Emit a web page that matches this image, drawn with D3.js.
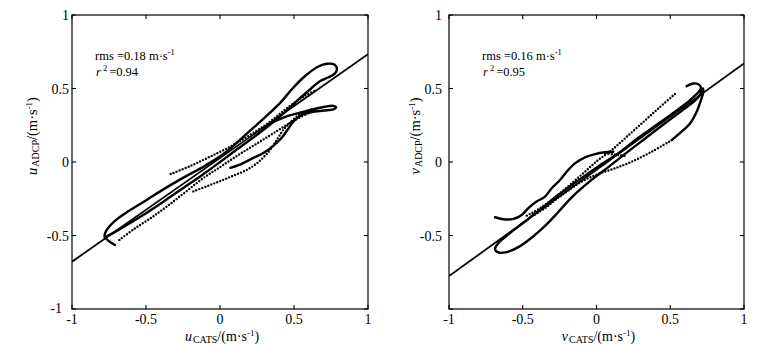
<!DOCTYPE html>
<html><head><meta charset="utf-8">
<script src="https://cdn.jsdelivr.net/npm/d3@7"></script>
<style>body{margin:0;background:#fff}svg{display:block}</style>
</head><body><svg id="c" width="770" height="345"></svg>
<script>
// ---------- data ----------
const axisTicks = [-1, -0.5, 0, 0.5, 1];
const tickLabels = ["-1", "-0.5", "0", "0.5", "1"];
const uYTickLabels = ["-1", "-0.5", "0", "0.5", "1"];
const vYTickLabels = ["", "-0.5", "0", "0.5", "1"];

const uFitLine = [[-1, -0.678], [1, 0.733]];
const vFitLine = [[-1, -0.776], [1, 0.671]];

const uStats = {rms: "0.18", r2: "0.94"};
const vStats = {rms: "0.16", r2: "0.95"};

// left panel (u) – dense (solid) trajectories
const uSolidLoop = [[-0.71,-0.565],[-0.755,-0.535],[-0.78,-0.505],[-0.77,-0.47],[-0.71,-0.4],[-0.62,-0.335],
  [-0.507,-0.265],[-0.394,-0.193],[-0.259,-0.113],[-0.101,-0.025],[0.03,0.06],[0.2,0.21],[0.3,0.3],
  [0.405,0.4],[0.49,0.5],[0.575,0.585],[0.655,0.645],[0.72,0.668],[0.775,0.662],[0.79,0.635],[0.775,0.6],
  [0.73,0.575],[0.675,0.55],[0.61,0.495],[0.53,0.425],[0.45,0.35],[0.36,0.272],[0.25,0.185],[0.12,0.09],
  [0.0,0.0],[-0.12,-0.088],[-0.25,-0.178],[-0.38,-0.268],[-0.5,-0.348],[-0.62,-0.422],[-0.72,-0.482],[-0.78,-0.512]];
const uSolidTail = [[0.36,0.272],[0.45,0.31],[0.54,0.335],[0.63,0.358],[0.71,0.376],[0.766,0.382],[0.785,0.372],
  [0.766,0.358],[0.7,0.35],[0.62,0.34],[0.55,0.32],[0.5,0.28],[0.46,0.225],[0.42,0.168],[0.36,0.11],
  [0.29,0.06],[0.21,0.02],[0.13,-0.02],[0.07,-0.04]];
// left panel – sparse (dotted) trajectories
const uDotted1 = [[-0.333,-0.082],[-0.2,-0.027],[-0.068,0.036],[0.068,0.104],[0.203,0.184],[0.338,0.274],
  [0.45,0.365],[0.563,0.444],[0.653,0.49]];
const uDotted2 = [[-0.68,-0.53],[-0.58,-0.455],[-0.47,-0.383],[-0.36,-0.303],[-0.24,-0.21],[-0.12,-0.115],
  [0,-0.035],[0.12,0.045],[0.24,0.12],[0.36,0.195],[0.48,0.27],[0.61,0.34]];
const uDotted3 = [[-0.18,-0.2],[-0.09,-0.165],[0,-0.13],[0.09,-0.093],[0.18,-0.054],[0.26,0.0],[0.338,0.082],
  [0.39,0.16],[0.428,0.218],[0.518,0.308],[0.62,0.36]];

// right panel (v) – dense (solid) trajectories
const vSolidMain = [[0.611,0.516],[0.656,0.534],[0.69,0.529],[0.708,0.507],[0.702,0.489],[0.634,0.421],
  [0.532,0.342],[0.419,0.262],[0.284,0.165],[0.148,0.06],[0.012,-0.03],[-0.123,-0.125],[-0.259,-0.224],
  [-0.372,-0.314],[-0.485,-0.405],[-0.587,-0.484],[-0.666,-0.552],[-0.688,-0.593],[-0.666,-0.615],
  [-0.609,-0.613],[-0.53,-0.579],[-0.44,-0.515],[-0.349,-0.435],[-0.259,-0.34],[-0.168,-0.24],
  [-0.05,-0.135],[0.08,-0.035],[0.2,0.06],[0.33,0.16],[0.46,0.26],[0.58,0.35],[0.665,0.415],
  [0.705,0.462],[0.72,0.5],[0.724,0.477],[0.708,0.421],[0.679,0.342],[0.634,0.262],[0.577,0.206],[0.51,0.149]];
const vSolidWavy = [[-0.688,-0.376],[-0.632,-0.389],[-0.564,-0.387],[-0.507,-0.36],[-0.462,-0.314],
  [-0.406,-0.269],[-0.349,-0.235],[-0.304,-0.179],[-0.247,-0.122],[-0.202,-0.066],[-0.146,-0.009],
  [-0.078,0.032],[-0.01,0.054],[0.058,0.066],[0.114,0.07]];
// right panel – sparse (dotted) trajectories
const vDottedArc = [[0.51,0.149],[0.374,0.07],[0.238,0.002],[0.125,-0.043],[0.012,-0.081],[-0.1,-0.133],
  [-0.2,-0.2],[-0.28,-0.258],[-0.35,-0.314],[-0.42,-0.36]];
const vDottedLine = [[0.532,0.462],[0.419,0.364],[0.306,0.262],[0.193,0.161],[0.103,0.081],[0.012,0.014],
  [-0.078,-0.066],[-0.168,-0.145],[-0.259,-0.224],[-0.349,-0.292],[-0.44,-0.348],[-0.485,-0.371]];
const vDottedShort = [[0.06,0.06],[0.125,0.05],[0.2,0.04]];

// ---------- drawing ----------
const svg = d3.select("#c");
const FONT = "'Liberation Serif','Times New Roman',serif";

const panels = [
  {x0:72, x1:368, y0:15, y1:309, yLabels:uYTickLabels, yLabelRight:69, letter:"u", stats:uStats, statX:95,
   fit:uFitLine, solids:[uSolidLoop,uSolidTail], dots:[uDotted1,uDotted2,uDotted3], ylabX:37},
  {x0:449, x1:744, y0:15, y1:309, yLabels:vYTickLabels, yLabelRight:442, letter:"v", stats:vStats, statX:482,
   fit:vFitLine, solids:[vSolidMain,vSolidWavy], dots:[vDottedArc,vDottedLine,vDottedShort], ylabX:420}
];

panels.forEach(p => {
  const x = d3.scaleLinear().domain([-1,1]).range([p.x0,p.x1]);
  const y = d3.scaleLinear().domain([-1,1]).range([p.y1,p.y0]);
  const g = svg.append("g");
  const clipId = "clip" + p.letter;
  svg.append("clipPath").attr("id", clipId).append("rect")
    .attr("x", p.x0).attr("y", p.y0).attr("width", p.x1-p.x0).attr("height", p.y1-p.y0);

  const plot = g.append("g").attr("clip-path", `url(#${clipId})`);
  const line = d3.line().x(d=>x(d[0])).y(d=>y(d[1]));
  const curve = d3.line().x(d=>x(d[0])).y(d=>y(d[1])).curve(d3.curveCatmullRom.alpha(0.5));

  plot.append("path").attr("d", line(p.fit)).attr("fill","none").attr("stroke","#000").attr("stroke-width",1.8);
  p.solids.forEach(s => plot.append("path").attr("d", curve(s)).attr("fill","none")
    .attr("stroke","#000").attr("stroke-width",2.4).attr("stroke-linejoin","round").attr("stroke-linecap","round"));
  p.dots.forEach(s => plot.append("path").attr("d", curve(s)).attr("fill","none")
    .attr("stroke","#000").attr("stroke-width",2.4).attr("stroke-linecap","round").attr("stroke-dasharray","0 3.2"));

  // frame
  g.append("rect").attr("x",p.x0).attr("y",p.y0).attr("width",p.x1-p.x0).attr("height",p.y1-p.y0)
    .attr("fill","none").attr("stroke","#000").attr("stroke-width",1.2);

  // inward ticks on all sides
  const tl = 4;
  axisTicks.forEach(t => {
    g.append("line").attr("x1",x(t)).attr("x2",x(t)).attr("y1",p.y1).attr("y2",p.y1-tl).attr("stroke","#000").attr("stroke-width",1.1);
    g.append("line").attr("x1",x(t)).attr("x2",x(t)).attr("y1",p.y0).attr("y2",p.y0+tl).attr("stroke","#000").attr("stroke-width",1.1);
    g.append("line").attr("y1",y(t)).attr("y2",y(t)).attr("x1",p.x0).attr("x2",p.x0+tl).attr("stroke","#000").attr("stroke-width",1.1);
    g.append("line").attr("y1",y(t)).attr("y2",y(t)).attr("x1",p.x1).attr("x2",p.x1-tl).attr("stroke","#000").attr("stroke-width",1.1);
  });

  // tick labels
  axisTicks.forEach((t,i) => {
    g.append("text").attr("x", x(t)).attr("y", 324).attr("text-anchor","middle")
      .attr("font-family",FONT).attr("font-size",14).text(tickLabels[i]);
    if (p.yLabels[i]) {
      g.append("text").attr("x", p.yLabelRight - (t===-1?7:0)).attr("y", y(t) + (t===-1?4:5))
        .attr("text-anchor","end").attr("font-family",FONT).attr("font-size",14).text(p.yLabels[i]);
    }
  });

  // stats text
  const st = g.append("text").attr("x", p.statX).attr("y", 60).attr("font-family",FONT).attr("font-size",12.5);
  st.append("tspan").text("rms =" + p.stats.rms + " m\u00b7s");
  st.append("tspan").attr("font-size",8.5).attr("dy",-5).text("-1");
  const r2 = g.append("text").attr("x", p.statX + 1).attr("y", 76).attr("font-family",FONT).attr("font-size",12.5);
  r2.append("tspan").attr("font-style","italic").text("r");
  r2.append("tspan").attr("font-size",8.5).attr("dy",-5).attr("dx",2).text("2");
  r2.append("tspan").attr("dy",5).attr("dx",2).text("=" + p.stats.r2);

  // x axis label
  const xl = g.append("text").attr("x", (p.x0+p.x1)/2 + 2).attr("y", 341).attr("text-anchor","middle")
    .attr("font-family",FONT).attr("font-size",14);
  xl.append("tspan").attr("font-style","italic").text(p.letter);
  xl.append("tspan").attr("font-size",10).attr("dy",2).attr("dx",1).text("CATS");
  xl.append("tspan").attr("dy",-2).text("/(m\u00b7s");
  xl.append("tspan").attr("font-size",9).attr("dy",-5).text("-1");
  xl.append("tspan").attr("dy",5).text(")");

  // y axis label
  const yl = g.append("text").attr("transform", `translate(${p.ylabX},136) rotate(-90)`)
    .attr("text-anchor","middle").attr("font-family",FONT).attr("font-size",14.5);
  yl.append("tspan").attr("font-style","italic").text(p.letter);
  yl.append("tspan").attr("font-size",10).attr("dy",2).attr("dx",1).text("ADCP");
  yl.append("tspan").attr("dy",-2).text("/(m\u00b7s");
  yl.append("tspan").attr("font-size",9).attr("dy",-5).text("-1");
  yl.append("tspan").attr("dy",5).text(")");
});
</script></body></html>
